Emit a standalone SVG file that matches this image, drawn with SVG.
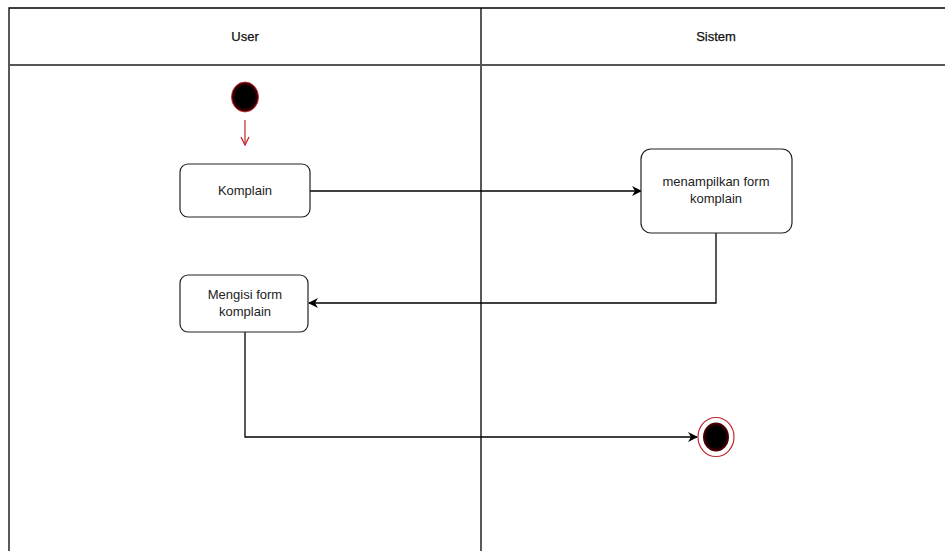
<svg xmlns="http://www.w3.org/2000/svg" width="945" height="551" viewBox="0 0 945 551">
  <style>
    .lane { fill: none; stroke: #000; stroke-width: 1.3; }
    .head { stroke: #555; stroke-width: 2; }
    .act { fill: #fff; stroke: #222; stroke-width: 1.2; }
    .lbl { font-family: "Liberation Sans", Arial, sans-serif; font-size: 13px; fill: #222; text-anchor: middle; }
    .title { font-size: 13px; fill: #111; stroke: #111; stroke-width: 0.25; }
    .edge { fill: none; stroke: #000; stroke-width: 1.3; }
  </style>
  <defs>
    <marker id="arrow" viewBox="0 0 10 10" refX="9" refY="5" markerWidth="10" markerHeight="10" orient="auto" markerUnits="userSpaceOnUse">
      <path d="M0,0 L10,5 L0,10 L3,5 Z" fill="#000"/>
    </marker>
    <marker id="arrowOpen" viewBox="0 0 10 10" refX="9" refY="5" markerWidth="10" markerHeight="10" orient="auto" markerUnits="userSpaceOnUse">
      <path d="M1,1 L9,5 L1,9" fill="none" stroke="#c0282d" stroke-width="1.3"/>
    </marker>
    <radialGradient id="dot" cx="50%" cy="50%" r="50%">
      <stop offset="70%" stop-color="#000"/>
      <stop offset="100%" stop-color="#5a0006"/>
    </radialGradient>
  </defs>
  <rect width="945" height="551" fill="#fff"/>

  <!-- swimlanes -->
  <g id="lanes">
    <path class="lane" d="M9,551 V8 H946 M481,8 V551"/>
    <line class="head" x1="9" y1="65" x2="946" y2="65"/>
    <text class="lbl title" x="245" y="41">User</text>
    <text class="lbl title" x="716" y="41">Sistem</text>
  </g>

  <!-- connectors -->
  <g id="connectors">
    <line x1="245" y1="120" x2="245" y2="145" stroke="#c0282d" stroke-width="1.2" marker-end="url(#arrowOpen)"/>
    <line class="edge" x1="310" y1="191" x2="641" y2="191" marker-end="url(#arrow)"/>
    <path class="edge" d="M716,233 V303 H309" marker-end="url(#arrow)"/>
    <path class="edge" d="M245,332 V437 H697" marker-end="url(#arrow)"/>
  </g>

  <g id="start">
    <ellipse cx="245" cy="97" rx="13.5" ry="15" fill="url(#dot)" stroke="#c0282d" stroke-width="0.8"/>
  </g>

  <g id="komplain">
    <rect class="act" x="180" y="164" width="130" height="53" rx="8"/>
    <text class="lbl" x="245" y="195">Komplain</text>
  </g>

  <g id="menampilkan-form">
    <rect class="act" x="641" y="149" width="151" height="84" rx="10"/>
    <text class="lbl" x="716" y="186">menampilkan form</text>
    <text class="lbl" x="716" y="203">komplain</text>
  </g>

  <g id="mengisi-form">
    <rect class="act" x="180" y="275" width="128" height="57" rx="8"/>
    <text class="lbl" x="245" y="299">Mengisi form</text>
    <text class="lbl" x="245" y="316">komplain</text>
  </g>

  <g id="end">
    <ellipse cx="716" cy="437" rx="18" ry="19.5" fill="#fff" stroke="#c0282d" stroke-width="1.2"/>
    <ellipse cx="716" cy="437" rx="13" ry="14.5" fill="url(#dot)"/>
  </g>
</svg>
